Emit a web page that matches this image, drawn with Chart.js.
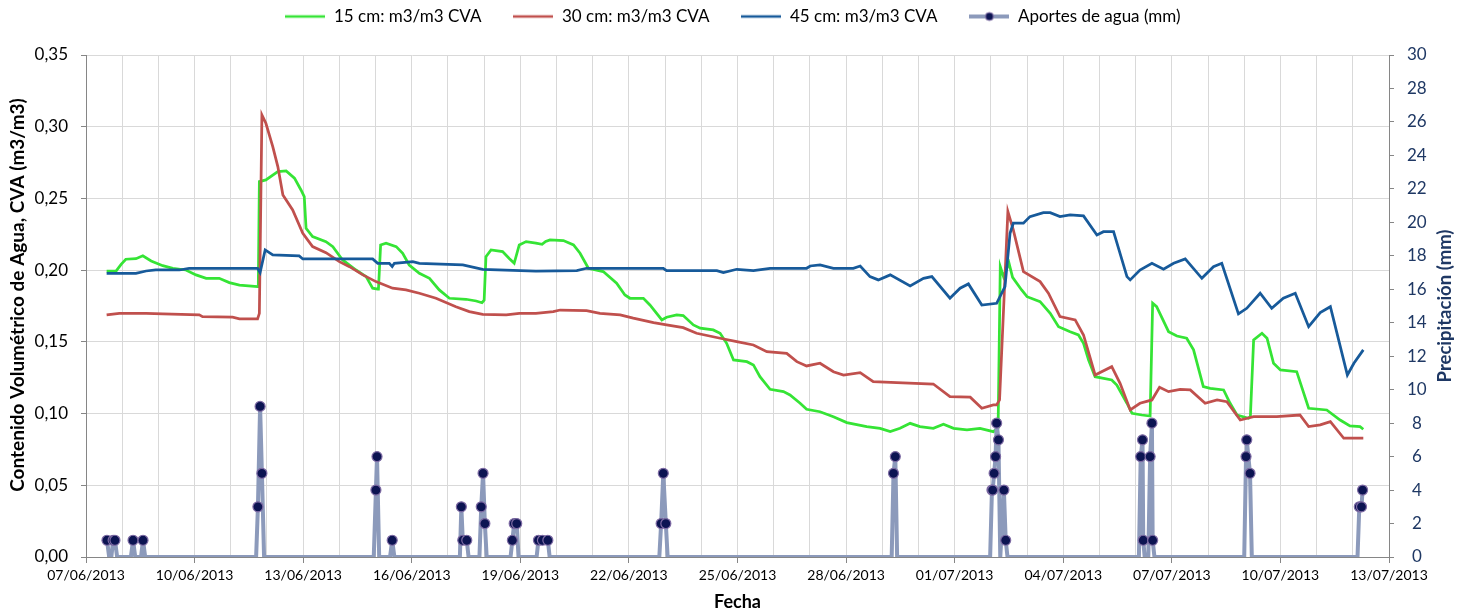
<!DOCTYPE html>
<html><head><meta charset="utf-8">
<script src="https://cdn.jsdelivr.net/npm/chart.js@4.4.0/dist/chart.umd.min.js"></script>
<style>html,body{margin:0;padding:0;background:#fff}#wrap{width:1466px;height:616px;position:relative}</style>
</head><body><div id="wrap"><canvas id="c"></canvas></div>
<script>
// X tick labels (every 3 days starting 07/06/2013)
const tickDates = ['07/06/2013','10/06/2013','13/06/2013','16/06/2013','19/06/2013','22/06/2013','25/06/2013','28/06/2013','01/07/2013','04/07/2013','07/07/2013','10/07/2013','13/07/2013'];

// 15 cm series: days since 07/06/2013 and CVA (m3/m3)
const day15 = [0.57,0.83,0.97,1.10,1.38,1.57,1.80,2.12,2.40,2.76,3.04,3.32,3.68,3.96,4.24,4.74,4.76,4.79,4.97,5.30,5.53,5.76,5.94,6.03,6.08,6.26,6.63,6.82,7.09,7.46,7.74,7.92,8.06,8.08,8.14,8.29,8.57,8.75,8.93,9.21,9.49,9.76,10.04,10.50,10.78,10.94,11.00,11.05,11.19,11.51,11.70,11.83,11.97,12.16,12.43,12.60,12.70,12.82,13.19,13.47,13.65,13.88,14.29,14.66,14.89,15.03,15.40,15.58,15.91,16.04,16.32,16.50,16.78,16.97,17.33,17.52,17.70,17.89,18.26,18.44,18.62,18.90,19.27,19.45,19.73,19.91,20.28,20.65,21.02,21.57,21.94,22.22,22.49,22.77,23.04,23.41,23.69,23.97,24.34,24.70,25.07,25.20,25.26,25.35,25.50,25.60,25.85,26.00,26.36,26.64,26.87,27.19,27.42,27.56,27.70,27.88,28.34,28.48,28.76,28.90,29.17,29.40,29.47,29.58,29.91,30.14,30.41,30.60,30.87,31.06,31.43,31.61,31.80,32.12,32.17,32.26,32.49,32.63,32.81,33.00,33.45,33.78,34.28,34.65,34.92,35.20,35.29];
const cva15 = [0.1994,0.1994,0.2040,0.2076,0.2080,0.2100,0.2064,0.2031,0.2013,0.2001,0.1967,0.1943,0.1943,0.1913,0.1895,0.1885,0.1885,0.2617,0.2629,0.2687,0.2692,0.2641,0.2559,0.2513,0.2292,0.2234,0.2199,0.2164,0.2071,0.2001,0.1955,0.1874,0.1867,0.1867,0.2176,0.2188,0.2164,0.2118,0.2036,0.1978,0.1943,0.1862,0.1804,0.1797,0.1785,0.1773,0.1790,0.2094,0.2141,0.2129,0.2080,0.2048,0.2176,0.2199,0.2188,0.2180,0.2200,0.2211,0.2206,0.2176,0.2118,0.2013,0.1990,0.1909,0.1827,0.1804,0.1804,0.1757,0.1653,0.1672,0.1688,0.1683,0.1618,0.1595,0.1583,0.1560,0.1490,0.1374,0.1362,0.1339,0.1257,0.1169,0.1153,0.1130,0.1072,0.1030,0.1013,0.0978,0.0937,0.0909,0.0897,0.0874,0.0897,0.0932,0.0909,0.0897,0.0925,0.0897,0.0886,0.0897,0.0874,0.0900,0.2025,0.1955,0.2050,0.1950,0.1862,0.1815,0.1780,0.1699,0.1606,0.1571,0.1548,0.1490,0.1374,0.1257,0.1234,0.1199,0.1072,0.1002,0.0990,0.0983,0.1769,0.1745,0.1571,0.1541,0.1525,0.1444,0.1188,0.1176,0.1165,0.1072,0.0990,0.0967,0.0980,0.1513,0.1560,0.1525,0.1351,0.1304,0.1292,0.1037,0.1025,0.0955,0.0914,0.0909,0.0891];

// 30 cm series
const day30 = [0.57,0.92,1.66,2.12,3.13,3.22,4.05,4.24,4.74,4.79,4.86,4.97,5.16,5.30,5.44,5.71,5.99,6.26,6.63,7.00,7.28,7.65,8.01,8.47,8.84,9.21,9.67,10.22,10.59,10.96,11.61,11.97,12.43,12.91,13.10,13.83,14.20,14.76,15.12,15.68,16.04,16.50,16.87,17.52,17.98,18.44,18.81,19.36,19.64,19.91,20.28,20.65,20.93,21.39,21.75,22.40,23.41,23.87,24.43,24.75,25.07,25.16,25.24,25.47,25.62,25.90,26.36,26.59,26.91,27.33,27.56,27.88,28.34,28.57,28.85,29.12,29.45,29.66,29.91,30.23,30.51,30.92,31.25,31.52,31.89,32.26,32.90,33.54,33.78,34.10,34.38,34.75,35.07,35.29];
const cva30 = [0.1688,0.1699,0.1699,0.1695,0.1688,0.1676,0.1672,0.1660,0.1660,0.1699,0.3082,0.3024,0.2861,0.2722,0.2524,0.2420,0.2257,0.2164,0.2122,0.2059,0.2024,0.1967,0.1920,0.1874,0.1862,0.1839,0.1804,0.1745,0.1711,0.1692,0.1688,0.1699,0.1699,0.1711,0.1722,0.1718,0.1699,0.1688,0.1665,0.1634,0.1618,0.1599,0.1560,0.1525,0.1501,0.1478,0.1432,0.1420,0.1362,0.1332,0.1351,0.1292,0.1269,0.1285,0.1223,0.1215,0.1206,0.1118,0.1114,0.1037,0.1060,0.1060,0.1095,0.2408,0.2280,0.1990,0.1920,0.1839,0.1676,0.1653,0.1548,0.1269,0.1327,0.1211,0.1025,0.1072,0.1095,0.1183,0.1153,0.1169,0.1165,0.1072,0.1095,0.1083,0.0955,0.0978,0.0978,0.0990,0.0909,0.0921,0.0944,0.0828,0.0828,0.0828];

// 45 cm series
const day45 = [0.57,1.38,1.66,1.93,2.58,2.85,4.74,4.81,4.95,5.16,5.89,5.99,7.92,8.06,8.38,8.46,8.52,9.03,9.21,10.41,10.96,12.43,13.56,13.83,15.95,16.04,17.43,17.61,17.98,18.44,18.90,19.91,20.01,20.28,20.65,21.20,21.39,21.66,21.89,22.22,22.77,23.14,23.37,23.87,24.15,24.38,24.75,25.16,25.39,25.53,25.62,25.90,26.08,26.45,26.64,26.91,27.19,27.56,27.93,28.11,28.39,28.76,28.85,29.12,29.45,29.77,30.05,30.37,30.83,31.15,31.38,31.84,32.07,32.44,32.76,33.08,33.41,33.78,34.10,34.38,34.85,35.03,35.29];
const cva45 = [0.1978,0.1978,0.1994,0.2001,0.2001,0.2013,0.2013,0.1983,0.2141,0.2106,0.2099,0.2078,0.2078,0.2048,0.2048,0.2025,0.2048,0.2059,0.2048,0.2036,0.2006,0.1994,0.1997,0.2013,0.2013,0.1997,0.1997,0.1983,0.2006,0.1997,0.2013,0.2013,0.2029,0.2036,0.2013,0.2013,0.2029,0.1955,0.1932,0.1967,0.1890,0.1943,0.1955,0.1804,0.1874,0.1904,0.1757,0.1769,0.1885,0.2257,0.2327,0.2327,0.2373,0.2401,0.2401,0.2373,0.2385,0.2378,0.2245,0.2268,0.2268,0.1955,0.1932,0.2001,0.2048,0.2006,0.2048,0.2078,0.1943,0.2024,0.2048,0.1695,0.1734,0.1839,0.1734,0.1804,0.1839,0.1606,0.1704,0.1745,0.1269,0.1351,0.1444];

// Water inputs (mm), right axis
const precipDay = [0.58,0.64,0.70,0.75,0.80,0.86,1.24,1.30,1.36,1.52,1.575,1.635,4.70,4.75,4.81,4.86,4.92,7.95,8.01,8.04,8.10,8.40,8.46,8.52,10.33,10.37,10.41,10.52,10.57,10.87,10.92,10.97,11.02,11.07,11.73,11.78,11.83,11.90,11.95,12.45,12.50,12.61,12.76,12.81,15.84,15.89,15.95,16.02,16.07,22.26,22.31,22.36,22.41,24.98,25.03,25.05,25.09,25.13,25.16,25.21,25.26,25.36,25.41,25.46,29.09,29.14,29.19,29.21,29.25,29.35,29.40,29.45,29.47,29.52,32.00,32.05,32.07,32.16,32.21,35.13,35.18,35.24,35.27];
const precipMm  = [1,0,0,1,1,0,0,1,0,0,1,0,0,3,9,5,0,0,4,6,0,0,1,0,0,3,1,1,0,0,3,5,2,0,0,1,2,2,0,0,1,1,1,0,0,2,5,2,0,0,5,6,0,0,4,4,5,6,8,7,0,4,1,0,0,6,7,1,0,0,6,8,1,0,0,6,7,5,0,0,3,3,4];

const labels = ['15 cm: m3/m3 CVA','30 cm: m3/m3 CVA','45 cm: m3/m3 CVA','Aportes de agua (mm)'];
const colors = ['#35E435','#C0504D','#175A9A','#8C9ABB'];
const leftTitle = 'Contenido Volumétrico de Agua, CVA (m3/m3)';
const rightTitle = 'Precipitación (mm)';
const xTitle = 'Fecha';

function pts(xs, ys){ return xs.map((x,i)=>({x:x, y:ys[i]})); }

function swatch(color, width, marker){
  const c = document.createElement('canvas'); c.width = 40; c.height = 12;
  const g = c.getContext('2d');
  g.strokeStyle = color; g.lineWidth = width;
  g.beginPath(); g.moveTo(0,6); g.lineTo(40,6); g.stroke();
  if (marker){
    g.beginPath(); g.arc(20,6,4,0,Math.PI*2);
    g.fillStyle = '#0C1452'; g.fill();
    g.lineWidth = 1; g.strokeStyle = '#7E6BA4'; g.stroke();
  }
  return c;
}
const swatches = [swatch(colors[0],2.5,false), swatch(colors[1],2.5,false), swatch(colors[2],2.5,false), swatch(colors[3],4,true)];

const FONT = 'Lato';

const layoutPlugin = {
  id: 'layoutFix',
  beforeInit(chart){
    const lg = chart.legend;
    if (!lg) return;
    const fit = lg.fit;
    lg.fit = function(){ fit.call(this); this.height = 55; };
    const draw = lg.draw;
    lg.draw = function(){ const c = this.ctx; c.save(); c.translate(0,-24); draw.call(this); c.restore(); };
  },
  afterDraw(chart){
    const c = chart.ctx;
    c.save();
    c.textAlign = 'center'; c.textBaseline = 'middle';
    c.font = 'bold 19px ' + FONT;
    c.fillStyle = '#000';
    c.save(); c.translate(18, 295); c.rotate(-Math.PI/2); c.fillText(leftTitle, 0, 0); c.restore();
    c.font = 'bold 18.5px ' + FONT;
    c.fillStyle = '#1F3864';
    c.save(); c.translate(1445, 306); c.rotate(-Math.PI/2); c.fillText(rightTitle, 0, 0); c.restore();
    c.restore();
  }
};

new Chart(document.getElementById('c'), {
  type: 'line',
  data: {
    datasets: [
      { label: labels[0], data: pts(day15, cva15), borderColor: colors[0], backgroundColor: colors[0], borderWidth: 2.75, pointRadius: 0, tension: 0, yAxisID: 'y', order: 3 },
      { label: labels[1], data: pts(day30, cva30), borderColor: colors[1], backgroundColor: colors[1], borderWidth: 2.75, pointRadius: 0, tension: 0, yAxisID: 'y', order: 2 },
      { label: labels[2], data: pts(day45, cva45), borderColor: colors[2], backgroundColor: colors[2], borderWidth: 2.75, pointRadius: 0, tension: 0, yAxisID: 'y', order: 1 },
      { label: labels[3], data: pts(precipDay, precipMm), borderColor: colors[3], backgroundColor: colors[3], borderWidth: 4, borderJoinStyle: 'round', tension: 0, yAxisID: 'y2', order: 0,
        pointRadius: (ctx) => (ctx.raw && ctx.raw.y > 0) ? 5 : 0,
        pointBackgroundColor: '#0C1452', pointBorderColor: '#7E6BA4', pointBorderWidth: 1.2 }
    ]
  },
  options: {
    responsive: true, maintainAspectRatio: false, animation: false,
    layout: { padding: 0 },
    plugins: {
      tooltip: { enabled: false },
      legend: {
        position: 'top',
        labels: {
          usePointStyle: true, pointStyleWidth: 40, boxHeight: 12,
          padding: 32, color: '#000', font: { family: FONT, size: 17 },
          sort: (a, b) => a.datasetIndex - b.datasetIndex,
          generateLabels(chart){
            const items = Chart.defaults.plugins.legend.labels.generateLabels(chart);
            items.forEach(it => { it.pointStyle = swatches[it.datasetIndex]; });
            return items;
          }
        }
      }
    },
    scales: {
      x: {
        type: 'linear', min: 0, max: 36,
        afterFit(s){ s.height = 59; },
        ticks: { stepSize: 1, autoSkip: false, maxRotation: 0, minRotation: 0, padding: 4, color: '#000', font: { family: FONT, size: 14 },
          callback: (v) => (v % 3 === 0) ? tickDates[v / 3] : '' },
        grid: { color: '#D9D9D9', lineWidth: 1, tickLength: 6,
          tickColor: (ctx) => (ctx.tick && ctx.tick.value % 3 === 0) ? '#868686' : 'rgba(0,0,0,0)' },
        border: { color: '#868686' },
        title: { display: true, text: xTitle, color: '#000', font: { family: FONT, size: 18, weight: 'bold' }, padding: { top: 0, bottom: 3 } }
      },
      y: {
        position: 'left', min: 0, max: 0.35,
        afterFit(s){ s.width = 86; },
        ticks: { stepSize: 0.05, padding: 13, color: '#000', font: { family: FONT, size: 17 },
          callback: (v) => v.toFixed(2).replace('.', ',') },
        grid: { color: '#D9D9D9', lineWidth: 1, tickLength: 5, tickColor: '#868686' },
        border: { color: '#868686' }
      },
      y2: {
        position: 'right', min: 0, max: 30,
        afterFit(s){ s.width = 77; },
        ticks: { stepSize: 2, autoSkip: false, padding: 13, crossAlign: 'center', color: '#1F3864', font: { family: FONT, size: 17 } },
        grid: { drawOnChartArea: false, tickLength: 5, tickColor: '#868686' },
        border: { color: '#868686' }
      }
    }
  },
  plugins: [layoutPlugin]
});
</script>
</body></html>
